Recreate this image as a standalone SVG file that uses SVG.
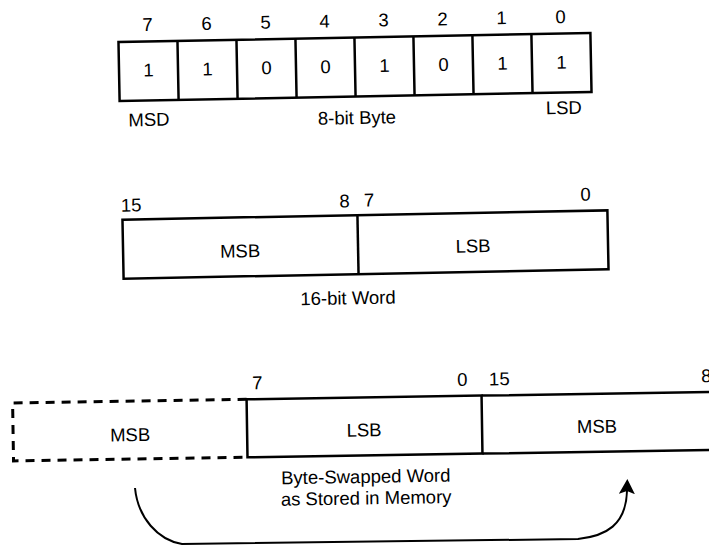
<svg xmlns="http://www.w3.org/2000/svg" width="709" height="548" viewBox="0 0 709 548">
<style>
text{font-family:"Liberation Sans",Arial,Helvetica,sans-serif;font-size:18.5px;fill:#000;text-anchor:middle}
.box{fill:none;stroke:#000;stroke-width:2.5}
.div{stroke:#000;stroke-width:2.5}
.dash{fill:none;stroke:#000;stroke-width:3;stroke-dasharray:9 7}
.arrow{fill:none;stroke:#000;stroke-width:2}
</style>
<defs>
<marker id="ah" markerUnits="userSpaceOnUse" markerWidth="15" markerHeight="16" viewBox="0 0 15 16" refX="3" refY="8" orient="auto">
<path d="M0,0 L15,8 L0,16 L3,8 z" fill="#000"/>
</marker>
</defs>
<rect width="709" height="548" fill="#fff"/>

<g id="byte" transform="rotate(-1.1 356 67)">
<rect class="box" x="119" y="37.5" width="472" height="59"/>
<path class="div" d="M178,37.5V96.5M237,37.5V96.5M296,37.5V96.5M355,37.5V96.5M414,37.5V96.5M473,37.5V96.5M532,37.5V96.5"/>
<text x="148.5" y="27">7</text>
<text x="207.5" y="27">6</text>
<text x="266.5" y="27">5</text>
<text x="325.5" y="27">4</text>
<text x="384.5" y="27">3</text>
<text x="443.5" y="27">2</text>
<text x="502.5" y="27">1</text>
<text x="561.5" y="27">0</text>
<text x="148.5" y="72.5">1</text>
<text x="207.5" y="72.5">1</text>
<text x="266.5" y="72.5">0</text>
<text x="325.5" y="72.5">0</text>
<text x="384.5" y="72.5">1</text>
<text x="443.5" y="72.5">0</text>
<text x="502.5" y="72.5">1</text>
<text x="561.5" y="72.5">1</text>
<text x="148" y="122">MSD</text>
<text x="356" y="124">8-bit Byte</text>
<text x="563" y="118">LSD</text>
</g>

<g id="word" transform="rotate(-1.1 366 245)">
<rect class="box" x="123" y="215" width="485" height="59"/>
<path class="div" d="M358,215V274"/>
<text x="132" y="207">15</text>
<text x="345.5" y="207">8</text>
<text x="370" y="206.5">7</text>
<text x="586.5" y="205">0</text>
<text x="240" y="255">MSB</text>
<text x="473" y="254.5">LSB</text>
<text x="347" y="304">16-bit Word</text>
</g>

<g id="swapped" transform="rotate(-0.9 360 425)">
<path class="dash" d="M247,397.5H13V455.5H247"/>
<rect class="box" x="247" y="397.5" width="235" height="58"/>
<path class="div" d="M482,397.5H720M482,455.5H720"/>
<text x="258" y="387.5">7</text>
<text x="463" y="387.5">0</text>
<text x="500" y="387.5">15</text>
<text x="702" y="387.5" style="text-anchor:start">8</text>
<text x="130" y="437.5">MSB</text>
<text x="364" y="436.5">LSB</text>
<text x="597" y="436.5">MSB</text>
<text x="365" y="483">Byte-Swapped Word</text>
<text x="365" y="504.5">as Stored in Memory</text>
</g>

<g id="connectors">
<path class="arrow" d="M135,488 C138,518 158,540 182,544 L578,539 C606,536 626,525 627,491" marker-end="url(#ah)"/>
</g>
</svg>
